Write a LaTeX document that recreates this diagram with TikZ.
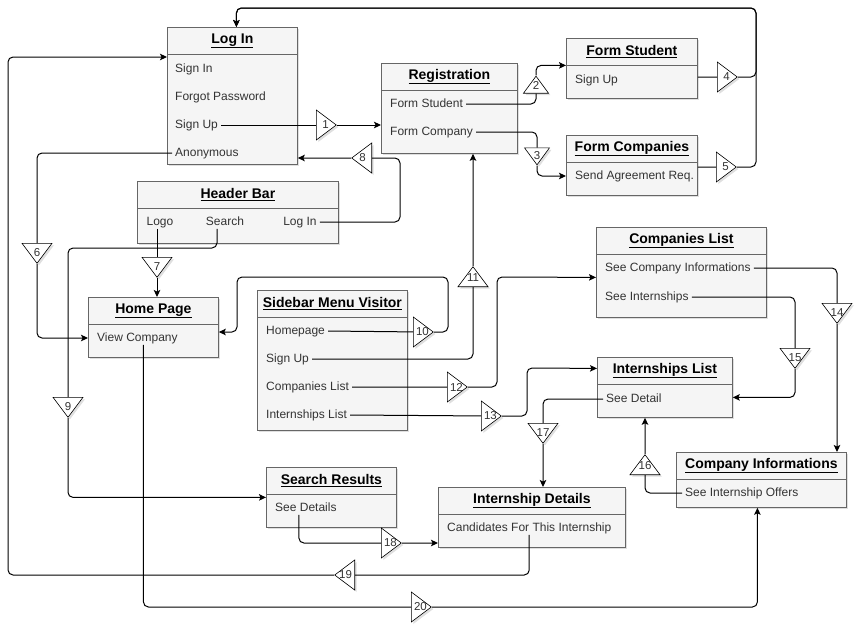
\documentclass[tikz,border=0pt]{standalone}
\usepackage{fontspec}
\setmainfont{Liberation Sans}
\usetikzlibrary{positioning}
\usetikzlibrary{calc}
\usetikzlibrary{shapes.geometric}
\usetikzlibrary{arrows.meta}
\usetikzlibrary{shadows}

\definecolor{boxfill}{HTML}{F5F5F5}
\definecolor{boxline}{HTML}{666666}
\definecolor{itemtext}{HTML}{333333}

\tikzset{
    box/.style      = {draw=boxline, fill=boxfill, line width=0.8pt, anchor=north west, inner sep=0pt,
                       drop shadow={shadow xshift=2pt, shadow yshift=-2pt, opacity=0.25}},
    boxtitle/.style = {anchor=north, minimum height=27pt, inner sep=0pt,
                       font=\fontsize{14}{16}\selectfont\bfseries},
    item/.style     = {anchor=west, inner xsep=3pt, inner ysep=1pt, text=itemtext,
                       text height=9pt, text depth=2.5pt, font=\fontsize{12}{14}\selectfont},
    tri/.style      = {isosceles triangle, isosceles triangle stretches, draw, fill=white,
                       line width=0.6pt, inner sep=0pt, minimum width=30pt, minimum height=20pt,
                       anchor=lower side,
                       drop shadow={shadow xshift=2pt, shadow yshift=-2pt, opacity=0.25}},
    tri right/.style = {tri, shape border rotate=0},
    tri left/.style  = {tri, shape border rotate=180},
    tri up/.style    = {tri, shape border rotate=90},
    tri down/.style  = {tri, shape border rotate=270},
    trinum/.style   = {inner sep=0pt, text=itemtext, font=\fontsize{11.5}{12}\selectfont},
    flow/.style     = {line width=1pt, rounded corners=5pt, -{Stealth[length=7pt, width=6.5pt, inset=1.5pt]}},
}

\begin{document}
\begin{tikzpicture}[x=1pt, y=-1pt]
    \useasboundingbox (0,0) rectangle (859,627);

    % boxes
    \node[box, minimum width=130pt, minimum height=137pt] (login)             at (167,27)  {};
    \node[box, minimum width=136pt, minimum height=90pt]  (registration)      at (381,63)  {};
    \node[box, minimum width=131pt, minimum height=60pt]  (formstudent)       at (566,38)  {};
    \node[box, minimum width=131pt, minimum height=60pt]  (formcompanies)     at (566,135) {};
    \node[box, minimum width=201pt, minimum height=62pt]  (headerbar)         at (137,181) {};
    \node[box, minimum width=130pt, minimum height=60pt]  (homepage)          at (88,297)  {};
    \node[box, minimum width=150pt, minimum height=140pt] (sidebar)           at (257,290) {};
    \node[box, minimum width=170pt, minimum height=90pt]  (companieslist)     at (596,227) {};
    \node[box, minimum width=135pt, minimum height=60pt]  (internshipslist)   at (597,357) {};
    \node[box, minimum width=170pt, minimum height=55pt]  (companyinfo)       at (676,452) {};
    \node[box, minimum width=187pt, minimum height=60pt]  (internshipdetails) at (438,487) {};
    \node[box, minimum width=130pt, minimum height=60pt]  (searchresults)     at (266,467) {};

    % titles
    \node[boxtitle] (logintitle)             at (login.north)             {\underline{Log In}};
    \node[boxtitle] (registrationtitle)      at (registration.north)      {\underline{Registration}};
    \node[boxtitle] (formstudenttitle)       at (formstudent.north)       {\underline{Form Student}};
    \node[boxtitle] (formcompaniestitle)     at (formcompanies.north)     {\underline{Form Companies}};
    \node[boxtitle] (headerbartitle)         at (headerbar.north)         {\underline{Header Bar}};
    \node[boxtitle] (homepagetitle)          at (homepage.north)          {\underline{Home Page}};
    \node[boxtitle] (sidebartitle)           at (sidebar.north)           {\underline{Sidebar Menu Visitor}};
    \node[boxtitle] (companieslisttitle)     at (companieslist.north)     {\underline{Companies List}};
    \node[boxtitle] (internshipslisttitle)   at (internshipslist.north)   {\underline{Internships List}};
    \node[boxtitle] (companyinfotitle)       at (companyinfo.north)       {\underline{Company Informations}};
    \node[boxtitle] (internshipdetailstitle) at (internshipdetails.north) {\underline{Internship Details}};
    \node[boxtitle] (searchresultstitle)     at (searchresults.north)     {\underline{Search Results}};

    \foreach \b in {login, registration, formstudent, formcompanies, headerbar, homepage,
                    sidebar, companieslist, internshipslist, companyinfo, internshipdetails, searchresults}
        \draw[boxline, line width=0.8pt] (\b title.south -| \b.west) -- (\b title.south -| \b.east);

    % items
    \node[item] (lisignin)  at (172,69)  {Sign In};
    \node[item] (liforgot)  at (172,97)  {Forgot Password};
    \node[item] (lisignup)  at (172,125) {Sign Up};
    \node[item] (lianon)    at (172,153) {Anonymous};
    \node[item] (rgstudent) at (387,104) {Form Student};
    \node[item] (rgcompany) at (387,132) {Form Company};
    \node[item] (fssignup)  at (572,80)  {Sign Up};
    \node[item] (fcsend)    at (572,176) {Send Agreement Req.};
    \node[item, anchor=center] (hblogo)   at (160,222) {Logo};
    \node[item, anchor=center] (hbsearch) at (225,222) {Search};
    \node[item, anchor=center] (hblogin)  at (300,222) {Log In};
    \node[item] (hpview)    at (94,338)  {View Company};
    \node[item] (sbhome)    at (263,331) {Homepage};
    \node[item] (sbsignup)  at (263,359) {Sign Up};
    \node[item] (sbcomp)    at (263,387) {Companies List};
    \node[item] (sbintern)  at (263,415) {Internships List};
    \node[item] (clinfo)    at (602,268) {See Company Informations};
    \node[item] (clintern)  at (602,297) {See Internships};
    \node[item] (ilsee)     at (603,399) {See Detail};
    \node[item] (cioffers)  at (682,493) {See Internship Offers};
    \node[item] (idcand)    at (444,528) {Candidates For This Internship};
    \node[item] (srsee)     at (272,508) {See Details};

    % numbered triangles (placed by the middle of their base)
    \node[tri right] (t1)  at (316,125)   {};
    \node[tri up, minimum width=25pt, minimum height=17pt]   (t2) at (536,93.5)  {};
    \node[tri down, minimum width=25pt, minimum height=17pt] (t3) at (537,147.5) {};
    \node[tri right] (t4)  at (717,77)  {};
    \node[tri right] (t5)  at (716,167) {};
    \node[tri down]  (t6)  at (37,243)  {};
    \node[tri down]  (t7)  at (157,257) {};
    \node[tri left]  (t8)  at (372,158) {};
    \node[tri down]  (t9)  at (68,397)  {};
    \node[tri right] (t10) at (413,332) {};
    \node[tri up]    (t11) at (473,287) {};
    \node[tri right] (t12) at (447,387) {};
    \node[tri right] (t13) at (481,416) {};
    \node[tri down]  (t14) at (837,303) {};
    \node[tri down]  (t15) at (795,348) {};
    \node[tri up]    (t16) at (645,475) {};
    \node[tri down]  (t17) at (543,423) {};
    \node[tri right] (t18) at (381,543) {};
    \node[tri left]  (t19) at (355,575) {};
    \node[tri right] (t20) at (411,607) {};

    \foreach \n in {1,...,20}
        \node[trinum] (n\n) at ($(t\n.apex)!0.55!(t\n.lower side)$) {\n};

    % connectors
    \draw[flow] (lisignup.east) -- (t1) -- (registration.west |- t1);
    \draw[flow] (rgstudent.east) -| (t2) |- ([yshift=3pt]formstudent.west);
    \draw[flow] (rgcompany.east) -| (t3) |- (formcompanies.west |- fcsend);
    \draw[flow] (formstudent.east |- t4) -- (t4) -| (756,8) -| ([xshift=4pt]login.north);
    \draw[flow] (formcompanies.east |- t5) -- (t5) -| (756,8) -| ([xshift=4pt]login.north);
    \draw[flow] (lianon.west) -| (t6) |- (homepage.west |- hpview);
    \draw[flow] (hblogo.south -| t7) -- (t7) -- (homepage.north -| t7);
    \draw[flow] (hblogin.east) -| (400,158) -- (t8) -- (login.east |- t8);
    \draw[flow] ([xshift=-8pt]hbsearch.south) |- (68,248) -- (t9) |- (searchresults.west);
    \draw[flow] (sbhome.east) -- (t10) -| (448,277) -| (237,332) -- (homepage.east |- t10);
    \draw[flow] (sbsignup.east) -| (t11) -- (registration.south -| t11);
    \draw[flow] (sbcomp.east) -- (t12) -| (497,277) -- ([yshift=-5pt]companieslist.west);
    \draw[flow] (sbintern.east) -- (t13) -| (527,368) -- ([yshift=19pt]internshipslist.west);
    \draw[flow] (clinfo.east) -| (t14) -- (companyinfo.north -| t14);
    \draw[flow] (clintern.east) -| (t15) |- ([yshift=-10pt]internshipslist.east);
    \draw[flow] (cioffers.west) -| (t16) -- (internshipslist.south -| t16);
    \draw[flow] (ilsee.west) -| (t17) -- (internshipdetails.north -| t17);
    \draw[flow] ([xshift=-7pt]srsee.south) |- (t18) -- (internshipdetails.west |- t18);
    \draw[flow] (idcand.south) |- (t19) -| (8,57) -- ([yshift=-30pt]login.north west);
    \draw[flow] ([xshift=6pt]hpview.south) |- (t20) -| ([xshift=-4pt]companyinfo.south);
\end{tikzpicture}
\end{document}
